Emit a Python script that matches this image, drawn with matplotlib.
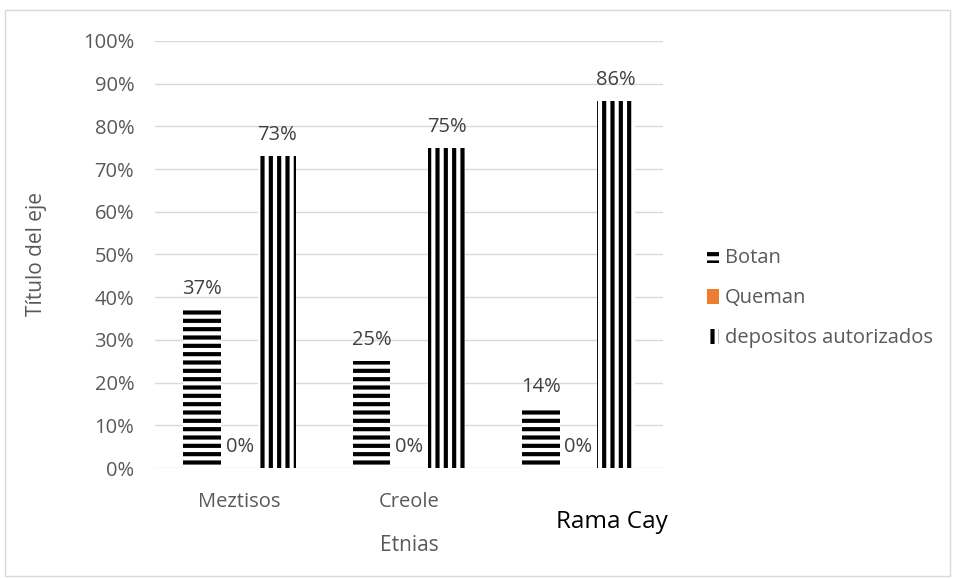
import numpy as np
import matplotlib.pyplot as plt
from matplotlib.patches import Rectangle
from matplotlib.ticker import PercentFormatter
import matplotlib.transforms as mtransforms

plt.rcParams['font.family'] = ['Open Sans', 'DejaVu Sans']
plt.rcParams['hatch.linewidth'] = 3.0

# Datos por etnia
etnias = ['Meztisos', 'Creole', 'Rama Cay']
botan = [0.37, 0.25, 0.14]
queman = [0.0, 0.0, 0.0]
depositos = [0.73, 0.75, 0.86]

gris = '#595959'
naranja = '#ed7d31'

fig = plt.figure(figsize=(9.55, 5.79), dpi=100)
fig.patches.append(Rectangle((0.005, 0.005), 0.99, 0.978, transform=fig.transFigure,
                             fill=False, edgecolor='#d9d9d9', linewidth=1))
ax = fig.add_axes([0.1623, 0.1917, 0.532, 0.7375])

x = np.arange(len(etnias))
w = 0.222
b1 = ax.bar(x - w, botan, w, facecolor='white', edgecolor='black', linewidth=0, hatch='--')
b2 = ax.bar(x, queman, w, color=naranja, linewidth=0)
b3 = ax.bar(x + w, depositos, w, facecolor='white', edgecolor='black', linewidth=0, hatch='||')

for barras in (b1, b2, b3):
    ax.bar_label(barras, labels=[f'{v:.0%}' for v in barras.datavalues],
                 padding=8, fontsize=14.5, color='#404040')

ax.set_xlim(-0.5, 2.5)
ax.set_ylim(0, 1.0)
ax.set_yticks(np.arange(0, 1.01, 0.1))
ax.yaxis.set_major_formatter(PercentFormatter(1.0, decimals=0))
ax.grid(axis='y', color='#d9d9d9', linewidth=1)
ax.set_axisbelow(True)
for s in ax.spines.values():
    s.set_visible(False)
ax.tick_params(axis='y', length=0, pad=15, labelsize=14.5, labelcolor=gris)
ax.tick_params(axis='x', length=0, pad=17, labelsize=14.5, labelcolor=gris)

ax.set_xticks(x)
ax.set_xticklabels(etnias)
# la etiqueta de Rama Cay va más abajo, a la derecha y en negro
rama = ax.get_xticklabels()[2]
rama.set_color('black')
rama.set_fontsize(17.5)
rama.set_transform(rama.get_transform() +
                   mtransforms.ScaledTranslation(0.33, -0.18, fig.dpi_scale_trans))

ax.set_xlabel('Etnias', fontsize=15, color=gris, labelpad=1)
ax.set_ylabel('Título del eje', fontsize=15, color=gris, labelpad=26)

h1 = Rectangle((0, 0), 1, 1, facecolor='white', edgecolor='black', linewidth=0, hatch='--')
h2 = Rectangle((0, 0), 1, 1, facecolor=naranja, linewidth=0)
h3 = Rectangle((0, 0), 1, 1, facecolor='white', edgecolor='black', linewidth=0, hatch='||')
fig.legend([h1, h2, h3], ['Botan', 'Queman', 'depositos autorizados'],
           loc='center left', bbox_to_anchor=(0.740, 0.485), frameon=False,
           fontsize=14.5, labelcolor=gris, handlelength=0.6, handleheight=0.75,
           handletextpad=0.3, labelspacing=1.0, borderaxespad=0, borderpad=0)

fig.savefig('out.png', dpi=100)
